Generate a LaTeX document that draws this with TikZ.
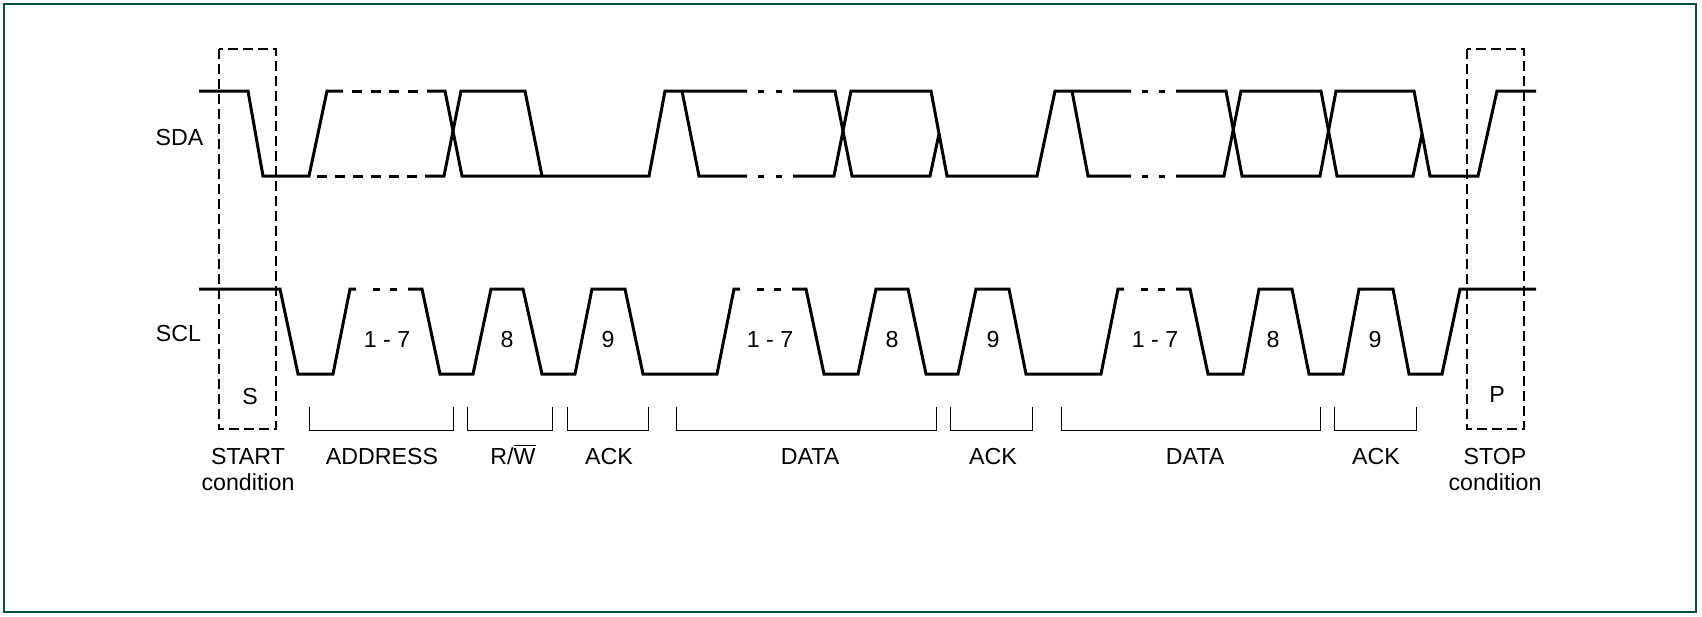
\documentclass[tikz,border=0pt]{standalone}
\usepackage{fontspec}
\setmainfont{Liberation Sans}
\definecolor{framegreen}{RGB}{0,80,64}
\begin{document}
\begin{tikzpicture}[x=0.5pt,y=-0.5pt,
  sig/.style={line width=1.5pt},
  condbox/.style={line width=1pt, dash pattern=on 5pt off 2.5pt},
  brk/.style={line width=0.5pt},
  lbl/.style={font=\fontsize{11.6pt}{13.5pt}\selectfont, inner sep=0pt, anchor=base}]
\useasboundingbox (0,0) rectangle (1702,616);
\draw[framegreen, line width=1pt] (4,4) rectangle (1696,612);

% ---------------- SDA ----------------
\draw[sig] (199,91) -- (248,91) -- (263,176) -- (309,176) -- (327,91) -- (343,91);
\draw[sig] (352,91) -- (362,91) (371,91) -- (381,91) (389,91) -- (399,91) (408,91) -- (418,91);
\draw[sig] (317,176) -- (327,176) (335,176) -- (345,176) (353,176) -- (363,176)
           (371,176) -- (381,176) (389,176) -- (399,176) (407,176) -- (417,176);
\draw[sig] (427,91) -- (445,91) -- (462,176) -- (649,176) -- (665,91) -- (747,91);
\draw[sig] (425,176) -- (444,176) -- (461,91) -- (525,91) -- (542,176);
\draw[sig] (682,91) -- (699,176) -- (747,176);
\draw[sig] (758,91) -- (764,91) (776,91) -- (782,91) (758,176) -- (764,176) (776,176) -- (782,176);
\draw[sig] (793,91) -- (835,91) -- (852,176) -- (930,176) -- (939,134);
\draw[sig] (793,176) -- (834,176) -- (851,91) -- (931,91) -- (947,176) -- (1037,176) -- (1055,91) -- (1131,91);
\draw[sig] (1072,91) -- (1088,176) -- (1131,176);
\draw[sig] (1142,91) -- (1148,91) (1159,91) -- (1165,91) (1142,176) -- (1148,176) (1159,176) -- (1165,176);
\draw[sig] (1176,91) -- (1226,91) -- (1242,176) -- (1320,176) -- (1336,91) -- (1414,91) -- (1430,176) -- (1478,176) -- (1497,91) -- (1536,91);
\draw[sig] (1176,176) -- (1224,176) -- (1241,91) -- (1321,91) -- (1337,176) -- (1413,176) -- (1422,134);

% ---------------- SCL ----------------
\draw[sig] (199,289) -- (280,289) -- (298,374) -- (333,374) -- (350,289) -- (356,289);
\draw[sig] (373,289) -- (380,289) (390,289) -- (397,289);
\draw[sig] (408,289) -- (422,289) -- (440,374) -- (473,374) -- (491,289) -- (523,289) -- (542,374) -- (575,374) -- (592,289) -- (625,289) -- (643,374) -- (717,374) -- (734,289) -- (740,289);
\draw[sig] (757,289) -- (764,289) (774,289) -- (781,289);
\draw[sig] (792,289) -- (806,289) -- (824,374) -- (858,374) -- (876,289) -- (908,289) -- (926,374) -- (958,374) -- (976,289) -- (1009,289) -- (1026,374) -- (1101,374) -- (1118,289) -- (1124,289);
\draw[sig] (1141,289) -- (1148,289) (1158,289) -- (1165,289);
\draw[sig] (1176,289) -- (1190,289) -- (1208,374) -- (1243,374) -- (1259,289) -- (1292,289) -- (1309,374) -- (1343,374) -- (1359,289) -- (1393,289) -- (1409,374) -- (1442,374) -- (1460,289) -- (1536,289);

% ---------------- condition boxes ----------------
\draw[condbox] (219,49) rectangle (276,429);
\draw[condbox] (1467,49) rectangle (1524,429);

% ---------------- brackets ----------------
\draw[brk] (309,407) -- (309,430) -- (453,430) -- (453,407);
\draw[brk] (467,407) -- (467,430) -- (552,430) -- (552,407);
\draw[brk] (567,407) -- (567,430) -- (648,430) -- (648,407);
\draw[brk] (676,407) -- (676,430) -- (936,430) -- (936,407);
\draw[brk] (950,407) -- (950,430) -- (1032,430) -- (1032,407);
\draw[brk] (1061,407) -- (1061,430) -- (1320,430) -- (1320,407);
\draw[brk] (1334,407) -- (1334,430) -- (1416,430) -- (1416,407);

% ---------------- labels ----------------
\node[lbl] (sda) at (179.5,145.7) {SDA};
\node[lbl] (scl) at (178.5,341.7) {SCL};
\node[lbl] (s) at (250,404) {S};
\node[lbl] (p) at (1497,402.7) {P};
\node[lbl] (a17) at (387,347.3) {1 - 7};
\node[lbl] (a8) at (507,347.3) {8};
\node[lbl] (a9) at (608,347.3) {9};
\node[lbl] (d17) at (770,347.3) {1 - 7};
\node[lbl] (d8) at (892,347.3) {8};
\node[lbl] (d9) at (993,347.3) {9};
\node[lbl] (e17) at (1155,347.3) {1 - 7};
\node[lbl] (e8) at (1273,347.3) {8};
\node[lbl] (e9) at (1375,347.3) {9};
\node[lbl] (start) at (248,464) {START};
\node[lbl] (startc) at (248,490) {condition};
\node[lbl] (addr) at (382,464) {ADDRESS};
\node[lbl] (rw) at (513,464) {R/$\overline{\hbox{W}}$};
\node[lbl] (ack1) at (609,464) {ACK};
\node[lbl] (data1) at (810,464) {DATA};
\node[lbl] (ack2) at (993,464) {ACK};
\node[lbl] (data2) at (1195,464) {DATA};
\node[lbl] (ack3) at (1376,464) {ACK};
\node[lbl] (stop) at (1495,464) {STOP};
\node[lbl] (stopc) at (1495,490) {condition};
\end{tikzpicture}
\end{document}
